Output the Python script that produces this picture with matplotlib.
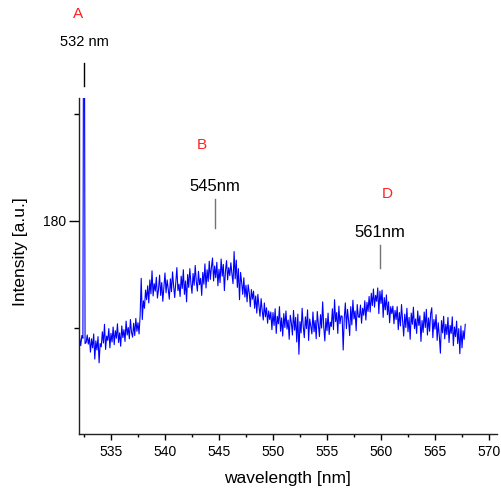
import numpy as np
import matplotlib
matplotlib.use("Agg")
import matplotlib.pyplot as plt
from matplotlib.ticker import MultipleLocator, FixedLocator

plt.rcParams['font.family'] = ['Liberation Sans', 'DejaVu Sans']

# emission spectrum, 0.1 nm steps starting at 532.1 nm
start_nm = 532.1
step_nm = 0.1
intensity = [
    158.0, 156.6, 158.5,
    158.0, 265.0, 157.0,
    157.2, 158.6, 156.9, 158.1, 155.4, 157.9, 156.2, 158.8, 154.1, 157.5, 155.8, 158.3, 153.4, 157.0,
    156.4, 159.2, 157.1, 160.6, 155.9, 158.4, 157.6, 159.8, 156.2, 158.9,
    157.3, 160.1, 156.8, 159.4, 158.0, 160.7, 157.2, 159.0, 156.5, 160.3,
    158.1, 159.6, 157.4, 161.2, 158.6, 160.0, 157.9, 161.5, 159.1, 158.2,
    160.8, 158.5, 161.7, 159.3, 160.9, 158.8,
    162.3, 169.2, 161.5, 165.0, 163.6, 167.0,
    165.2, 167.8, 164.6, 168.9, 166.3, 170.6, 165.9, 168.2, 166.8, 169.4,
    165.5, 167.1, 169.8, 166.0, 168.4, 164.9, 167.6, 170.2, 166.5, 168.9,
    167.2, 165.3, 169.1, 166.7, 170.4, 167.8, 165.6, 168.5, 171.2, 166.9,
    168.1, 165.8, 169.6, 167.3, 170.8, 166.2, 168.7, 164.8, 169.9, 167.5,
    171.0, 168.3, 166.4, 170.1, 167.9, 171.6, 168.6, 166.8, 170.5, 168.0,
    169.2,
    166.0, 170.3, 168.1, 171.9, 167.4, 170.8, 168.6, 172.4, 169.0, 171.3,
    173.0, 168.7, 171.5, 169.3, 172.2, 167.8, 170.9, 168.4, 172.8, 169.6,
    171.8, 166.9, 170.6, 172.5, 168.9, 171.2, 169.7, 172.1, 170.0, 168.2,
    174.2, 169.1, 172.6, 167.5, 171.0, 165.2, 170.3,
    168.4, 166.2, 169.3, 165.7, 167.9, 164.8, 168.0, 166.5, 163.9, 167.1,
    165.3, 166.8, 163.6, 165.9, 162.7, 166.2, 164.0, 162.1, 165.4, 163.2,
    161.4, 164.6, 162.0, 163.7, 160.8, 163.1, 161.5, 162.9,
    159.6, 162.8, 160.4, 163.5, 158.9, 162.1, 160.7, 163.9, 159.3, 161.8,
    158.4, 162.6, 160.0, 163.1, 159.7, 161.4, 157.8, 162.3, 160.9, 158.6,
    163.2, 159.5, 161.9, 157.3, 162.5, 155.0, 161.1, 159.0, 163.6, 160.2,
    158.1, 162.0, 159.8, 163.3, 157.6, 161.6, 160.3, 158.8, 162.9, 159.2,
    161.3, 157.9, 163.0, 160.6, 158.3, 162.4, 159.9, 164.8, 160.1, 157.5,
    161.7, 159.4, 162.7, 158.7, 161.0,
    160.2, 163.5, 159.6, 165.2, 161.1, 162.8, 158.9, 164.0, 160.7, 162.2,
    162.1, 155.8, 161.8, 164.6, 159.8, 163.4, 161.3, 158.5, 163.9, 160.5,
    165.1, 161.6, 163.1, 159.4, 164.3, 162.0,
    161.9, 164.2, 160.8, 163.6, 162.3, 165.0, 161.4, 164.7, 163.0, 165.8,
    162.9, 166.4, 164.1, 167.2, 163.8, 166.0, 164.9, 167.4, 162.6, 166.8,
    164.5, 167.0, 161.9, 165.6, 163.3, 166.1, 162.4, 164.8, 160.9, 163.9,
    162.6,
    164.0, 160.7, 163.2, 161.5, 163.9, 159.6, 162.8, 160.3, 164.3, 161.2,
    158.4, 162.5, 160.0, 163.6, 159.2, 161.9, 157.8, 162.7, 160.6, 163.8,
    159.8, 161.6, 158.9, 163.1, 160.4, 162.2, 157.4, 161.3, 159.1, 162.9,
    160.0, 163.4, 158.6, 161.8, 159.3, 162.6, 163.7, 158.1, 161.5, 159.7,
    162.4, 157.6, 160.9, 158.4, 155.2, 161.3, 159.0, 162.1, 157.9, 160.6,
    158.7, 161.9, 157.2, 160.4, 158.9, 162.0, 156.6, 160.1, 158.3, 161.2,
    157.0, 159.8, 155.1, 160.3, 156.2, 159.4, 157.8, 160.6,
]
wavelength = start_nm + step_nm * np.arange(len(intensity))

# y ticks: only 180 carries a label
y_major = [180]
y_minor = [160, 200]

# peak annotations: letter, label, marker position, marker span, text heights
peak_letters = ['A', 'B', 'D']
peak_labels = ['532 nm', '545nm', '561nm']
marker_nm = [532.5, 544.6, 559.9]
marker_lo = [205.2, 178.6, 171.2]
marker_hi = [209.5, 184.1, 175.5]
letter_x = [531.95, 543.4, 560.6]
letter_y = [218.6, 194.1, 185.0]
label_y = [213.4, 186.3, 177.7]
label_size = [10.5, 12, 12]
marker_color = ['black', '0.45', '0.45']

fig = plt.figure(figsize=(5.01, 4.92), dpi=100)
ax = fig.add_axes([0.1577, 0.1179, 0.8343, 0.6829])

ax.plot(wavelength, intensity, color='#0000ff', lw=0.8)

for i in range(len(peak_labels)):
    ax.plot([marker_nm[i], marker_nm[i]], [marker_lo[i], marker_hi[i]],
            color=marker_color[i], lw=1, clip_on=False)
    ax.text(marker_nm[i], label_y[i], peak_labels[i], fontsize=label_size[i],
            ha='center', va='center', clip_on=False)
    ax.text(letter_x[i], letter_y[i], peak_letters[i], fontsize=11,
            color='#ff2020', ha='center', va='center', clip_on=False)

ax.set_xlim(532.04, 570.74)
ax.set_ylim(140.1, 202.9)

ax.xaxis.set_major_locator(MultipleLocator(5))
ax.xaxis.set_minor_locator(MultipleLocator(2.5))
ax.yaxis.set_major_locator(FixedLocator(y_major))
ax.yaxis.set_minor_locator(FixedLocator(y_minor))

ax.tick_params(axis='x', which='major', length=4, width=1, pad=4, labelsize=10)
ax.tick_params(axis='x', which='minor', length=2.5, width=1)
ax.tick_params(axis='y', which='major', length=7, width=1, pad=2, labelsize=10)
ax.tick_params(axis='y', which='minor', length=3.5, width=1)

for side in ['top', 'right']:
    ax.spines[side].set_visible(False)
for side in ['left', 'bottom']:
    ax.spines[side].set_color('#222222')
    ax.spines[side].set_linewidth(1)

ax.set_xlabel('wavelength [nm]', fontsize=12.5)
ax.set_ylabel('Intensity [a.u.]', fontsize=12.5)
ax.xaxis.set_label_coords(0.498, -0.131)
ax.xaxis.label.set_va('center')
ax.yaxis.set_label_coords(-0.141, 0.542)
ax.yaxis.label.set_va('center')

fig.savefig('out.png', dpi=100)
